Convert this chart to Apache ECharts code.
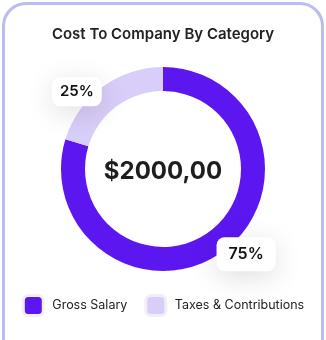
<!DOCTYPE html>
<html>
<head>
<meta charset="utf-8">
<script src="https://cdn.jsdelivr.net/npm/echarts@6/dist/echarts.min.js"></script>
<style>
  html, body { margin: 0; padding: 0; background: #ffffff; }
  #card { position: absolute; left: 2px; top: 2px; width: 316px; height: 380px;
          border: 3px solid #b9bdf0; border-radius: 24px; background: #fff; }
  #chart { position: absolute; left: 0; top: 0; width: 326px; height: 340px; }
</style>
</head>
<body>
<div id="card"></div>
<div id="chart"></div>
<script>
const titleText = 'Cost To Company By Category';
const centerText = '$2000,00';
const categories = ['Gross Salary', 'Taxes & Contributions'];
// share of the ring each arc covers, as read from the drawn arcs
const ringValues = [79.7, 20.3];
// percentages printed in the callout boxes
const labelValues = [75, 25];
const colors = ['#5c17f0', '#d9cdf9'];

const chart = echarts.init(document.getElementById('chart'), null, { renderer: 'canvas' });

const center = [163, 169];

chart.setOption({
  animation: false,
  backgroundColor: 'transparent',
  title: [
    {
      text: titleText, left: 'center', top: 22,
      textStyle: { fontFamily: 'Inter', fontSize: 15, fontWeight: 600, color: '#222222' }
    },
    {
      text: centerText, left: 'center', top: 155,
      textStyle: { fontFamily: 'Inter', fontSize: 24, fontWeight: 700, color: '#1e1e1e' }
    }
  ],
  legend: {
    data: categories,
    left: 'center', top: 289,
    icon: 'roundRect',
    itemWidth: 20, itemHeight: 20,
    itemGap: 17,
    itemStyle: { borderColor: '#f0eff6', borderWidth: 3 },
    textStyle: { fontFamily: 'Inter', fontSize: 12.5, color: '#222222', padding: [0, 0, 0, 4] }
  },
  series: [
    {
      type: 'pie',
      center: center,
      radius: [78, 102],
      startAngle: 90,
      clockwise: true,
      silent: true,
      label: { show: false },
      labelLine: { show: false },
      data: categories.map((name, i) => ({ name, value: ringValues[i], itemStyle: { color: colors[i] } }))
    },
    {
      type: 'pie',
      center: center,
      radius: [106, 126],
      startAngle: 90,
      clockwise: true,
      silent: true,
      legendHoverLink: false,
      itemStyle: { color: 'rgba(0,0,0,0)' },
      labelLine: { show: false },
      label: {
        show: true,
        position: 'inside',
        formatter: p => p.value + '%',
        fontFamily: 'Inter',
        fontWeight: 600,
        fontSize: 15,
        color: '#111111',
        backgroundColor: '#ffffff',
        borderRadius: 8,
        padding: [7, 8],
        shadowBlur: 28,
        shadowColor: 'rgba(0,0,0,0.13)',
        shadowOffsetY: 6
      },
      data: categories.map((name, i) => ({
        name,
        value: labelValues[i],
        label: i === 0 ? { padding: [9, 12], fontSize: 16, offset: [-1, 1] } : { offset: [-2, 7] }
      }))
    }
  ]
});
</script>
</body>
</html>
